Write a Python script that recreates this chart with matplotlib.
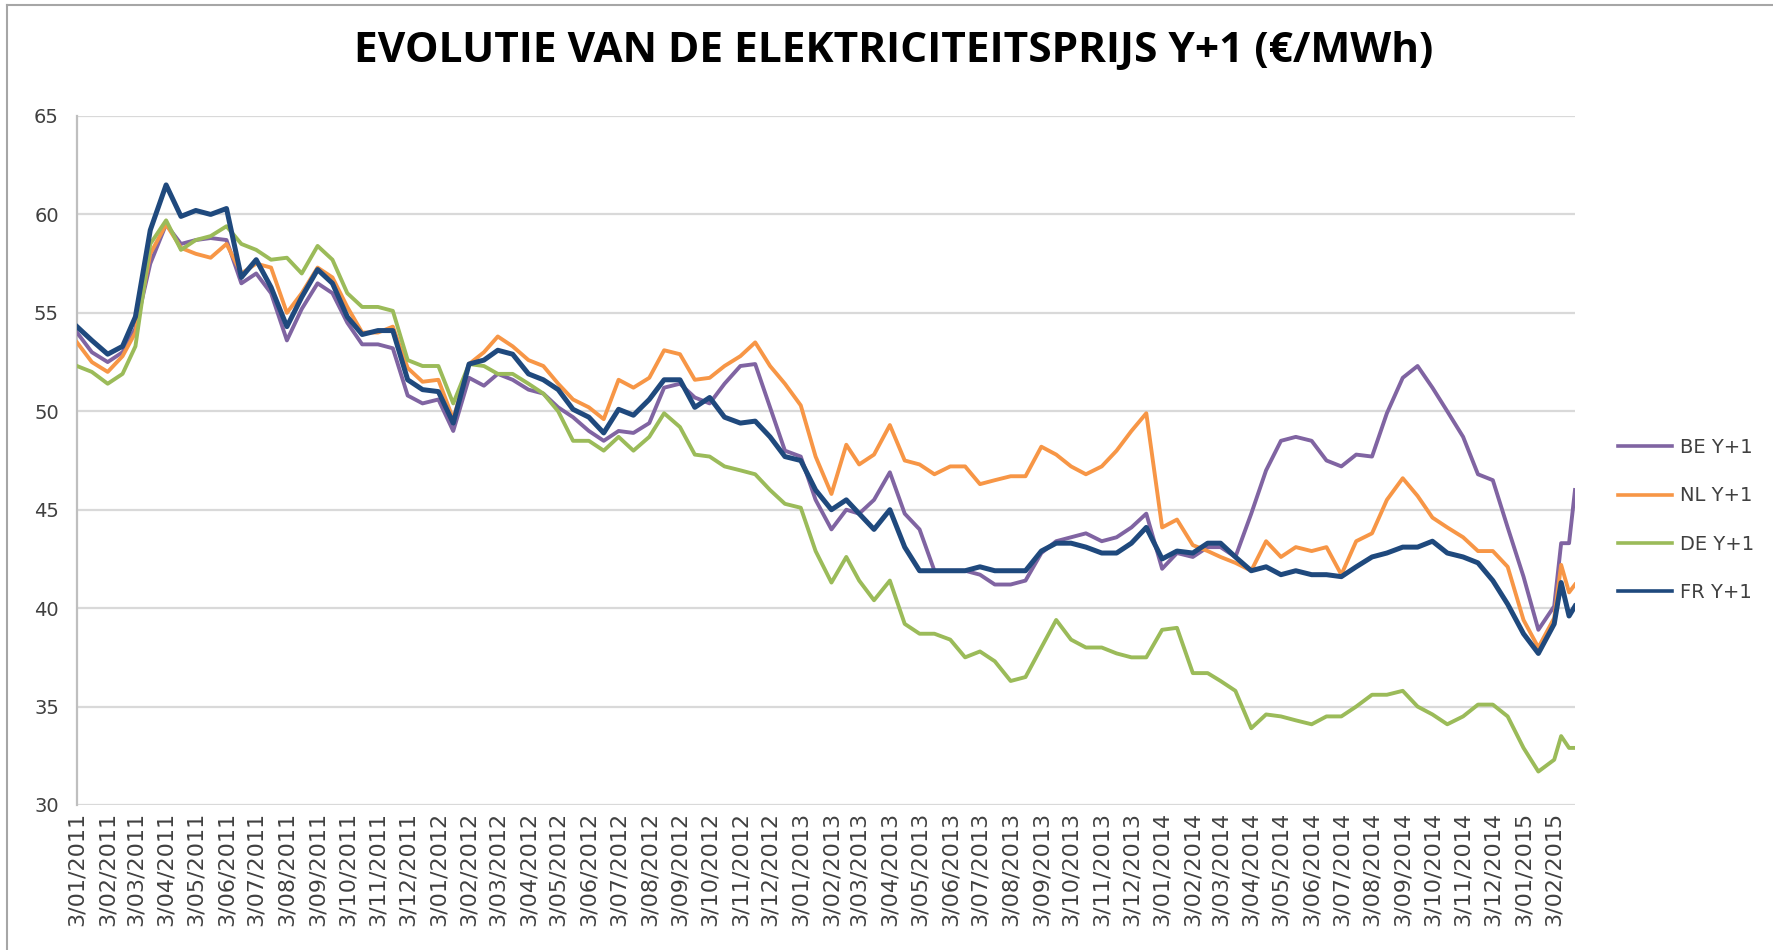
import matplotlib
matplotlib.use("Agg")
import matplotlib.pyplot as plt
from matplotlib.lines import Line2D
import pandas as pd

# ---------------- data ----------------
tick_labels = [
    "3/01/2011", "3/02/2011", "3/03/2011", "3/04/2011", "3/05/2011", "3/06/2011",
    "3/07/2011", "3/08/2011", "3/09/2011", "3/10/2011", "3/11/2011", "3/12/2011",
    "3/01/2012", "3/02/2012", "3/03/2012", "3/04/2012", "3/05/2012", "3/06/2012",
    "3/07/2012", "3/08/2012", "3/09/2012", "3/10/2012", "3/11/2012", "3/12/2012",
    "3/01/2013", "3/02/2013", "3/03/2013", "3/04/2013", "3/05/2013", "3/06/2013",
    "3/07/2013", "3/08/2013", "3/09/2013", "3/10/2013", "3/11/2013", "3/12/2013",
    "3/01/2014", "3/02/2014", "3/03/2014", "3/04/2014", "3/05/2014", "3/06/2014",
    "3/07/2014", "3/08/2014", "3/09/2014", "3/10/2014", "3/11/2014", "3/12/2014",
    "3/01/2015", "3/02/2015",
]
first_date = "2011-01-03"
last_date = "2015-02-24"

BE = [54.0, 53.0, 52.5, 53.0, 54.2, 57.5, 59.5, 58.5, 58.7, 58.8,
      58.7, 56.5, 57.0, 56.0, 53.6, 55.2, 56.5, 56.0, 54.5, 53.4,
      53.4, 53.2, 50.8, 50.4, 50.6, 49.0, 51.7, 51.3, 51.9, 51.6,
      51.1, 50.9, 50.2, 49.7, 49.0, 48.5, 49.0, 48.9, 49.4, 51.2,
      51.4, 50.7, 50.4, 51.4, 52.3, 52.4, 50.2, 48.0, 47.7, 45.5,
      44.0, 45.0, 44.8, 45.5, 46.9, 44.8, 44.0, 41.9, 41.9, 41.9,
      41.7, 41.2, 41.2, 41.4, 42.8, 43.4, 43.6, 43.8, 43.4, 43.6,
      44.1, 44.8, 42.0, 42.8, 42.6, 43.1, 43.1, 42.6, 44.8, 47.0,
      48.5, 48.7, 48.5, 47.5, 47.2, 47.8, 47.7, 49.9, 51.7, 52.3,
      51.2, 50.0, 48.7, 46.8, 46.5, 44.1, 41.6, 38.9, 40.1, 43.3,
      43.3, 46.0]

NL = [53.5, 52.5, 52.0, 52.8, 54.0, 58.0, 59.5, 58.3, 58.0, 57.8,
      58.5, 57.0, 57.5, 57.3, 55.0, 56.0, 57.3, 56.8, 55.3, 54.0,
      54.0, 54.3, 52.2, 51.5, 51.6, 49.6, 52.4, 53.0, 53.8, 53.3,
      52.6, 52.3, 51.4, 50.6, 50.2, 49.6, 51.6, 51.2, 51.7, 53.1,
      52.9, 51.6, 51.7, 52.3, 52.8, 53.5, 52.3, 51.4, 50.3, 47.7,
      45.8, 48.3, 47.3, 47.8, 49.3, 47.5, 47.3, 46.8, 47.2, 47.2,
      46.3, 46.5, 46.7, 46.7, 48.2, 47.8, 47.2, 46.8, 47.2, 48.0,
      49.0, 49.9, 44.1, 44.5, 43.2, 42.9, 42.6, 42.3, 41.9, 43.4,
      42.6, 43.1, 42.9, 43.1, 41.7, 43.4, 43.8, 45.5, 46.6, 45.7,
      44.6, 44.1, 43.6, 42.9, 42.9, 42.1, 39.4, 38.0, 39.5, 42.2,
      40.8, 41.2]

DE = [52.3, 52.0, 51.4, 51.9, 53.3, 58.5, 59.7, 58.2, 58.7, 58.9,
      59.4, 58.5, 58.2, 57.7, 57.8, 57.0, 58.4, 57.7, 56.0, 55.3,
      55.3, 55.1, 52.6, 52.3, 52.3, 50.4, 52.4, 52.3, 51.9, 51.9,
      51.4, 50.9, 50.0, 48.5, 48.5, 48.0, 48.7, 48.0, 48.7, 49.9,
      49.2, 47.8, 47.7, 47.2, 47.0, 46.8, 46.0, 45.3, 45.1, 42.9,
      41.3, 42.6, 41.4, 40.4, 41.4, 39.2, 38.7, 38.7, 38.4, 37.5,
      37.8, 37.3, 36.3, 36.5, 38.0, 39.4, 38.4, 38.0, 38.0, 37.7,
      37.5, 37.5, 38.9, 39.0, 36.7, 36.7, 36.3, 35.8, 33.9, 34.6,
      34.5, 34.3, 34.1, 34.5, 34.5, 35.0, 35.6, 35.6, 35.8, 35.0,
      34.6, 34.1, 34.5, 35.1, 35.1, 34.5, 32.9, 31.7, 32.3, 33.5,
      32.9, 32.9]

FR = [54.3, 53.6, 52.9, 53.3, 54.8, 59.2, 61.5, 59.9, 60.2, 60.0,
      60.3, 56.8, 57.7, 56.3, 54.3, 55.8, 57.2, 56.5, 54.8, 53.9,
      54.1, 54.1, 51.6, 51.1, 51.0, 49.4, 52.4, 52.6, 53.1, 52.9,
      51.9, 51.6, 51.1, 50.1, 49.7, 48.9, 50.1, 49.8, 50.6, 51.6,
      51.6, 50.2, 50.7, 49.7, 49.4, 49.5, 48.7, 47.7, 47.5, 46.0,
      45.0, 45.5, 44.8, 44.0, 45.0, 43.1, 41.9, 41.9, 41.9, 41.9,
      42.1, 41.9, 41.9, 41.9, 42.9, 43.3, 43.3, 43.1, 42.8, 42.8,
      43.3, 44.1, 42.5, 42.9, 42.8, 43.3, 43.3, 42.6, 41.9, 42.1,
      41.7, 41.9, 41.7, 41.7, 41.6, 42.1, 42.6, 42.8, 43.1, 43.1,
      43.4, 42.8, 42.6, 42.3, 41.4, 40.2, 38.7, 37.7, 39.2, 41.3,
      39.6, 40.1]

series_names = ["BE Y+1", "NL Y+1", "DE Y+1", "FR Y+1"]
series_values = [BE, NL, DE, FR]
series_colors = ["#8064A2", "#F79646", "#9BBB59", "#1F497D"]
series_widths = [2.8, 2.8, 2.8, 3.6]

# sample dates: 3rd and 18th of every month, an extra mid-Feb 2015 reading, last day
month_starts = pd.date_range(first_date, periods=len(tick_labels),
                             freq=pd.DateOffset(months=1))
dates = []
for i, d in enumerate(month_starts):
    dates.append(d)
    if i == len(month_starts) - 1:
        dates.append(d + pd.Timedelta(days=7))
    dates.append(d + pd.Timedelta(days=15))
dates.append(pd.Timestamp(last_date))
for v in series_values:
    assert len(v) == len(dates), (len(v), len(dates))

# ---------------- figure ----------------
W, H = 1773, 950
fig = plt.figure(figsize=(W / 100, H / 100), dpi=100)

# chart-area border (left and top edges visible in the reference)
border_col = "#A6A6A6"
fig.add_artist(Line2D([7 / W, 7 / W], [0, 1 - 5 / H], transform=fig.transFigure,
                      color=border_col, lw=1.5))
fig.add_artist(Line2D([7 / W, 1], [1 - 5 / H, 1 - 5 / H], transform=fig.transFigure,
                      color=border_col, lw=1.5))

ax = fig.add_axes([77 / W, 1 - 805 / H, (1575 - 77) / W, (805 - 116) / H])

lines = []
for name, vals, col, lw in zip(series_names, series_values, series_colors, series_widths):
    ln, = ax.plot(dates, vals, color=col, lw=lw, label=name,
                  solid_joinstyle="round", zorder=3)
    lines.append(ln)

ax.set_ylim(30, 65)
ax.set_yticks(range(30, 66, 5))
ax.set_xlim(pd.Timestamp(first_date), pd.Timestamp(last_date))
ax.set_xticks(month_starts)
ax.set_xticklabels(tick_labels, rotation=90)

ax.grid(axis="y", color="#D9D9D9", lw=1.6, zorder=0)
ax.grid(axis="x", visible=False)
for s in ["top", "right", "bottom"]:
    ax.spines[s].set_visible(False)
ax.spines["left"].set_color("#BFBFBF")
ax.spines["left"].set_linewidth(1.6)
ax.tick_params(axis="both", length=0, colors="#404040")
ax.tick_params(axis="y", labelsize=14, pad=13)
ax.tick_params(axis="x", labelsize=16, pad=5)

leg = fig.legend(handles=lines, labels=series_names, loc="center left",
                 bbox_to_anchor=(1600 / W, 1 - 520 / H), frameon=False,
                 fontsize=14, handlelength=2.8, handletextpad=0.4,
                 labelspacing=1.5, labelcolor="#404040")
for h in leg.get_lines():
    h.set_linewidth(2.6)

title = fig.text(894 / W, 1 - 52 / H, "EVOLUTIE VAN DE ELEKTRICITEITSPRIJS Y+1 (€/MWh)",
                 ha="center", va="center", fontsize=30, fontweight="bold",
                 family=["Open Sans", "DejaVu Sans"], color="#000000")
# fit title width to the reference (~1078 px)
fig.canvas.draw()
r = fig.canvas.get_renderer()
w = title.get_window_extent(r).width
title.set_fontsize(30 * 1078 / w)

fig.savefig("out.png", dpi=100)
